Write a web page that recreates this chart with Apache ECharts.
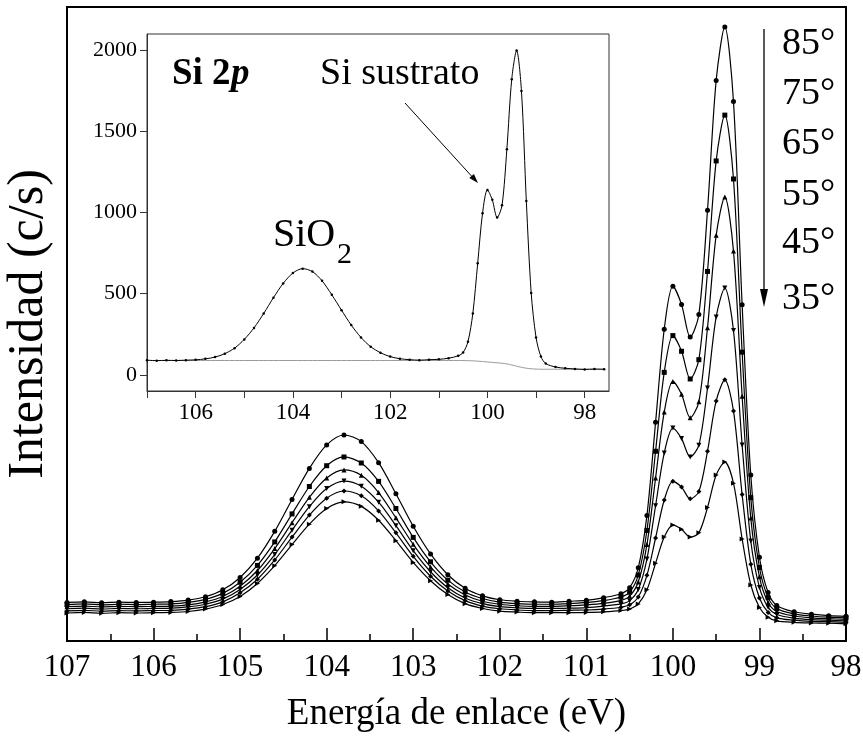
<!DOCTYPE html>
<html>
<head>
<meta charset="utf-8">
<title>Si 2p - XPS angular</title>
<script src="https://cdn.jsdelivr.net/npm/echarts@6/dist/echarts.min.js"></script>
<style>
  html, body { margin: 0; padding: 0; background: #fff; }
  #chart { width: 863px; height: 738px; }
</style>
</head>
<body>
<div id="chart"></div>
<script>
// energía de enlace (eV), común a las seis curvas
var energias = [107.0, 106.8, 106.6, 106.4, 106.2, 106.0, 105.8, 105.6, 105.4, 105.2,
  105.0, 104.8, 104.6, 104.4, 104.2, 104.0, 103.8, 103.6, 103.4, 103.2,
  103.0, 102.8, 102.6, 102.4, 102.2, 102.0, 101.8, 101.6, 101.4, 101.2,
  101.0, 100.8, 100.6, 100.5, 100.4, 100.3, 100.2, 100.1, 100.0, 99.9,
  99.8, 99.7, 99.6, 99.5, 99.4, 99.3, 99.2, 99.1, 99.0, 98.9,
  98.8, 98.6, 98.4, 98.2, 98.0];

// intensidad (c/s) para cada ángulo
var c85 = [88, 90, 87, 89, 88, 89, 91, 96, 107, 130, 171, 235, 324, 430, 533, 611, 644, 622, 552, 449,
  341, 249, 180, 135, 110, 97, 92, 90, 89, 92, 95, 104, 117, 137, 203, 377, 686, 995, 1138, 1077,
  969, 1044, 1390, 1821, 1999, 1751, 1076, 511, 238, 121, 78, 57, 49, 44, 42];
var c75 = [81, 83, 80, 82, 81, 82, 83, 88, 98, 118, 155, 211, 289, 382, 473, 542, 571, 551, 490, 400,
  304, 223, 162, 123, 101, 89, 84, 82, 82, 84, 88, 94, 106, 122, 179, 327, 590, 852, 974, 922,
  830, 894, 1187, 1554, 1706, 1494, 919, 436, 204, 104, 68, 50, 43, 39, 37];
var c65 = [74, 76, 73, 75, 74, 75, 76, 80, 90, 108, 142, 194, 267, 353, 437, 501, 528, 510, 453, 369,
  281, 206, 149, 113, 92, 82, 77, 75, 75, 77, 80, 85, 95, 109, 156, 280, 501, 720, 822, 779,
  701, 754, 1000, 1307, 1434, 1255, 773, 368, 173, 88, 58, 43, 37, 34, 32];
var c55 = [67, 69, 66, 68, 67, 68, 69, 73, 82, 99, 131, 179, 247, 328, 406, 466, 491, 474, 421, 343,
  260, 190, 137, 103, 84, 74, 70, 68, 68, 69, 71, 76, 83, 94, 131, 232, 409, 584, 667, 632,
  571, 610, 800, 1036, 1132, 991, 611, 292, 138, 72, 48, 36, 31, 29, 27];
var c45 = [60, 62, 59, 61, 60, 61, 62, 66, 74, 90, 120, 165, 229, 305, 378, 434, 458, 442, 392, 319,
  241, 175, 126, 94, 76, 67, 63, 61, 61, 62, 63, 66, 72, 80, 106, 178, 302, 428, 490, 471,
  432, 456, 590, 757, 827, 724, 446, 215, 103, 55, 37, 29, 25, 24, 22];
var c35 = [53, 55, 52, 54, 53, 54, 55, 58, 66, 81, 108, 151, 210, 280, 348, 400, 422, 407, 361, 293,
  221, 160, 114, 84, 68, 59, 56, 54, 54, 54, 55, 57, 61, 66, 83, 130, 218, 305, 345, 331,
  305, 319, 403, 511, 554, 484, 299, 146, 71, 39, 27, 22, 20, 19, 17];

var angulos = ["85°", "75°", "65°", "55°", "45°", "35°"];
var simbolos = ["circle", "rect", "triangle", "path://M0,0L10,0L5,9Z", "diamond", "path://M0,0L9,5L0,10Z"];

// recuadro: espectro Si 2p y fondo
var insetEnergias = [107.0, 106.8, 106.6, 106.4, 106.2, 106.0, 105.8, 105.6, 105.4, 105.2,
  105.0, 104.8, 104.6, 104.4, 104.2, 104.0, 103.8, 103.6, 103.4, 103.2,
  103.0, 102.8, 102.6, 102.4, 102.2, 102.0, 101.8, 101.6, 101.4, 101.2,
  101.0, 100.8, 100.6, 100.5, 100.4, 100.3, 100.2, 100.1, 100.0, 99.9,
  99.8, 99.7, 99.6, 99.5, 99.4, 99.3, 99.2, 99.1, 99.0, 98.9,
  98.8, 98.6, 98.4, 98.2, 98.0, 97.8, 97.6];
var insetSi2p = [90, 87, 89, 88, 90, 92, 98, 109, 130, 164, 218, 289, 378, 475, 563, 627, 654, 636, 579, 493,
  398, 306, 230, 173, 136, 112, 99, 93, 90, 93, 95, 102, 117, 137, 204, 378, 687, 996, 1139, 1078,
  969, 1044, 1390, 1821, 1998, 1748, 1071, 504, 230, 112, 69, 48, 40, 36, 33, 35, 34];
var insetFondo = [88, 88, 88, 88, 88, 88, 88, 88, 88, 88, 88, 88, 88, 88, 88, 88, 88, 88, 88, 88,
  88, 88, 88, 88, 88, 88, 88, 88, 88, 88, 88, 88, 88, 87.5, 87, 86, 84, 81.5, 79, 76,
  74, 71, 67, 60.5, 53, 46, 40.5, 37, 35, 34, 34, 34, 34, 34, 34, 34, 34];
var insetXTicks = [98, 99, 100, 101, 102, 103, 104, 105, 106, 107];
var insetXLabels = [98, 100, 102, 104, 106];
var insetYLabels = [0, 500, 1000, 1500, 2000];

var fuente = '"Liberation Serif", "Times New Roman", serif';
var chart = echarts.init(document.getElementById("chart"));

var curvas = [c85, c75, c65, c55, c45, c35];
var series = curvas.map(function (c, k) {
  return {
    name: angulos[k],
    type: "line",
    xAxisIndex: 0,
    yAxisIndex: 0,
    data: energias.map(function (e, i) { return [e, c[i]]; }),
    smooth: 0.3,
    symbol: simbolos[k],
    symbolSize: 5,
    lineStyle: { color: "#000", width: 1.2 },
    itemStyle: { color: "#000" },
    silent: true
  };
});

series.push({
  name: "fondo",
  type: "line",
  xAxisIndex: 1,
  yAxisIndex: 1,
  data: insetEnergias.map(function (e, i) { return [e, insetFondo[i]]; }),
  smooth: 0.3,
  showSymbol: false,
  lineStyle: { color: "#999", width: 1 },
  silent: true
});
series.push({
  name: "Si 2p",
  type: "line",
  xAxisIndex: 1,
  yAxisIndex: 1,
  data: insetEnergias.map(function (e, i) { return [e, insetSi2p[i]]; }),
  smooth: 0.3,
  symbol: "circle",
  symbolSize: 2.5,
  lineStyle: { color: "#000", width: 1 },
  itemStyle: { color: "#000" },
  silent: true
});

var etiquetasY = [44, 94, 144, 195, 243, 299];
var graficos = angulos.map(function (a, k) {
  return {
    type: "text",
    x: 782,
    y: etiquetasY[k],
    style: { text: a, fill: "#000", font: "38px " + fuente, textAlign: "left", textVerticalAlign: "middle" }
  };
});
graficos = graficos.concat([
  // flecha de ángulos
  { type: "line", shape: { x1: 764, y1: 29, x2: 764, y2: 295 }, style: { stroke: "#000", lineWidth: 1.3 } },
  { type: "polygon", shape: { points: [[760, 289], [768, 289], [764, 307]] }, style: { fill: "#000" } },
  // recuadro
  { type: "text", x: 172, y: 74, style: { text: "Si 2", fill: "#000", font: "bold 37px " + fuente, textAlign: "left", textVerticalAlign: "middle" } },
  { type: "text", x: 231, y: 74, style: { text: "p", fill: "#000", font: "italic bold 37px " + fuente, textAlign: "left", textVerticalAlign: "middle" } },
  { type: "text", x: 320, y: 74, style: { text: "Si sustrato", fill: "#000", font: "38px " + fuente, textAlign: "left", textVerticalAlign: "middle" } },
  { type: "text", x: 273, y: 235, style: { text: "SiO", fill: "#000", font: "40px " + fuente, textAlign: "left", textVerticalAlign: "middle" } },
  { type: "text", x: 337, y: 255, style: { text: "2", fill: "#000", font: "30px " + fuente, textAlign: "left", textVerticalAlign: "middle" } },
  { type: "line", shape: { x1: 405, y1: 103, x2: 476, y2: 181 }, style: { stroke: "#000", lineWidth: 1 } },
  { type: "polygon", shape: { points: [[478, 183], [469.3, 178.1], [473.9, 173.9]] }, style: { fill: "#000" } }
]);

chart.setOption({
  animation: false,
  backgroundColor: "#fff",
  grid: [
    { left: 67, top: 7, width: 779, height: 634, outerBoundsMode: "none", show: true, borderColor: "#000", borderWidth: 2 },
    { left: 147, top: 34, width: 462, height: 357, outerBoundsMode: "none", show: true, borderColor: "#333", borderWidth: 1, backgroundColor: "#fff" }
  ],
  xAxis: [
    {
      type: "value",
      gridIndex: 0,
      min: 98,
      max: 107,
      interval: 1,
      inverse: true,
      axisLine: { show: true, onZero: false, lineStyle: { color: "#000", width: 2 } },
      axisTick: { show: true, inside: true, length: 13, lineStyle: { color: "#000", width: 1.5 } },
      minorTick: { show: true, splitNumber: 2, length: 7, lineStyle: { color: "#000", width: 1.5 } },
      axisLabel: { color: "#000", fontFamily: fuente, fontSize: 31, margin: 11 },
      splitLine: { show: false },
      name: "Energía de enlace (eV)",
      nameLocation: "middle",
      nameGap: 55,
      nameTextStyle: { color: "#000", fontFamily: fuente, fontSize: 37 }
    },
    {
      type: "value",
      gridIndex: 1,
      min: 97.5,
      max: 107,
      inverse: true,
      axisLine: { show: true, onZero: false, lineStyle: { color: "#333", width: 1 } },
      axisTick: { show: true, inside: false, length: 7, customValues: insetXTicks, lineStyle: { color: "#333", width: 1 } },
      axisLabel: {
        color: "#000", fontFamily: fuente, fontSize: 23, margin: 10, customValues: insetXLabels,
        formatter: function (v) { return String(v); }
      },
      splitLine: { show: false }
    }
  ],
  yAxis: [
    {
      type: "value",
      gridIndex: 0,
      min: -40,
      max: 2065,
      axisLine: { show: true, lineStyle: { color: "#000", width: 2 } },
      axisTick: { show: false },
      axisLabel: { show: false },
      splitLine: { show: false },
      name: "Intensidad (c/s)",
      nameLocation: "middle",
      nameGap: 13,
      nameTextStyle: { color: "#000", fontFamily: fuente, fontSize: 50 }
    },
    {
      type: "value",
      gridIndex: 1,
      min: -100,
      max: 2100,
      axisLine: { show: true, lineStyle: { color: "#333", width: 1 } },
      axisTick: { show: true, inside: false, length: 7, customValues: insetYLabels, lineStyle: { color: "#333", width: 1 } },
      axisLabel: {
        color: "#000", fontFamily: fuente, fontSize: 22, margin: 10, customValues: insetYLabels,
        formatter: function (v) { return String(v); }
      },
      splitLine: { show: false }
    }
  ],
  graphic: graficos,
  series: series
});
</script>
</body>
</html>
